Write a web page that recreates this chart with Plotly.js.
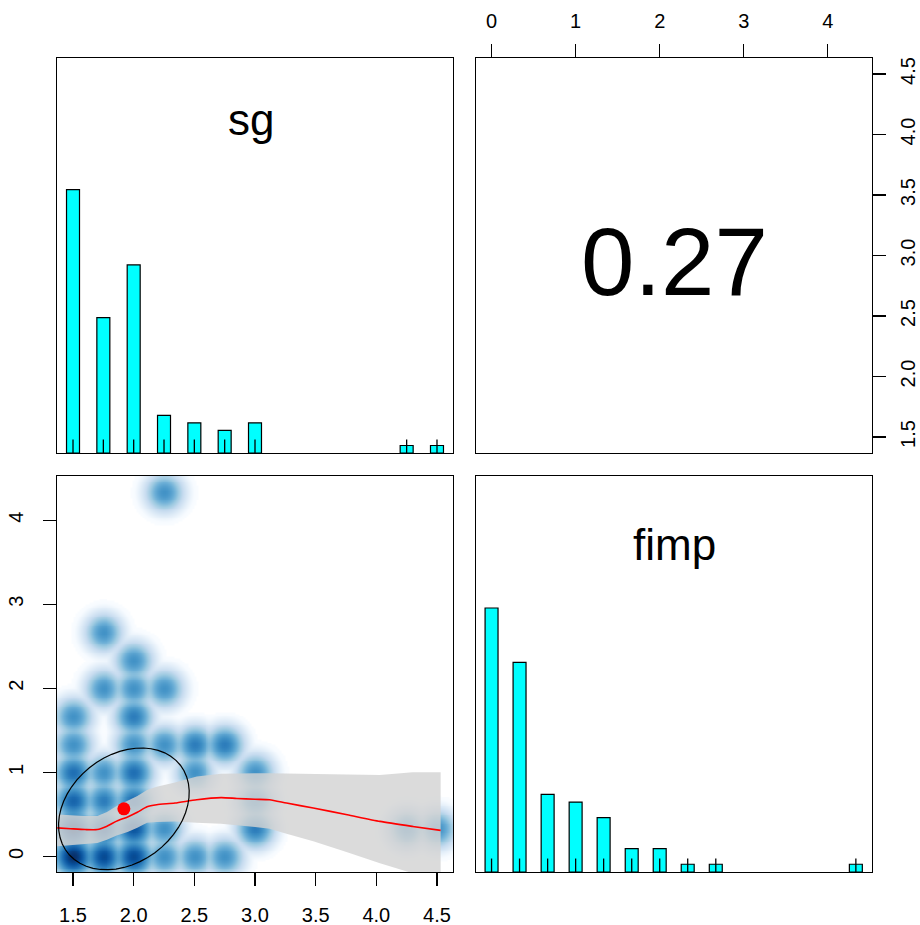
<!DOCTYPE html>
<html><head><meta charset="utf-8">
<script src="https://cdn.plot.ly/plotly-3.0.1.min.js"></script>
<style>body{margin:0;background:#fff}#chart{width:920px;height:925px}</style>
</head><body><div id="chart"></div>
<script>
// ---- data ----
// histogram of sg
const sgBins   = [1.5, 1.75, 2.0, 2.25, 2.5, 2.75, 3.0, 4.25, 4.5];
const sgCounts = [35, 18, 25, 5, 4, 3, 4, 1, 1];
// histogram of fimp
const fimpBins   = [0, 0.333, 0.667, 1, 1.333, 1.667, 2, 2.333, 2.667, 4.333];
const fimpCounts = [34, 27, 10, 9, 7, 3, 3, 1, 1, 1];
// joint cells (sg, fimp, number of cases) behind the smoothed scatter
const cellSg   = [1.5,1.5,1.5,1.5,1.5,1.5, 1.75,1.75,1.75,1.75,1.75,1.75, 2,2,2,2,2,2,2,2, 2.25,2.25,2.25,2.25,2.25, 2.5,2.5,2.5, 2.75,2.75, 3,3,3, 4.25, 4.5];
const cellFimp = [0,0.333,0.667,1,1.333,1.667, 0,0.333,0.667,1,2,2.667, 0,0.333,0.667,1,1.333,1.667,2,2.333, 0,0.333,1.333,2,4.333, 0,1,1.333, 0,1.333, 0.333,0.667,1, 0.333, 0.333];
const cellN    = [15,11,4,3,1,1, 8,5,2,1,1,1, 8,6,3,3,1,2,1,1, 1,1,1,1,1, 1,1,2, 1,2, 2,1,1, 1, 1];
// loess smooth and its confidence band
const smoothX  = [1.37, 1.48, 1.6, 1.7, 1.78, 1.86, 1.95, 2.03, 2.11, 2.19, 2.34, 2.52, 2.72, 2.85, 3.0, 3.12, 3.26, 3.48, 3.76, 4.03, 4.3, 4.53];
const smoothY  = [0.34, 0.33, 0.32, 0.32, 0.36, 0.42, 0.47, 0.525, 0.59, 0.615, 0.635, 0.675, 0.70, 0.69, 0.68, 0.675, 0.635, 0.576, 0.496, 0.417, 0.357, 0.31];
const bandUp   = [0.50, 0.49, 0.48, 0.48, 0.53, 0.60, 0.66, 0.72, 0.79, 0.83, 0.88, 0.95, 0.985, 0.99, 0.99, 0.99, 0.985, 0.98, 0.975, 0.97, 1.0, 1.0];
const bandLo   = [0.12, 0.13, 0.15, 0.16, 0.20, 0.25, 0.29, 0.34, 0.40, 0.41, 0.415, 0.40, 0.39, 0.37, 0.35, 0.33, 0.27, 0.18, 0.05, -0.08, -0.2, -0.3];
// correlation shown in the upper panel
const rValue = 0.27;
const rLabel = '0.27';
const varNames = ['sg', 'fimp'];
// tick labels
const sgTicks = [1.5, 2.0, 2.5, 3.0, 3.5, 4.0, 4.5];
const sgTickText = ['1.5', '2.0', '2.5', '3.0', '3.5', '4.0', '4.5'];
const fimpTicks = [0, 1, 2, 3, 4];
const fimpTickText = ['0', '1', '2', '3', '4'];

// ---- build ----
const sgRange = [1.368, 4.632];
const fimpRange = [-0.185, 4.525];
const FONT = 'Liberation Sans, Arial, Helvetica, sans-serif';

// summary stats from the cells
let n = 0, sx = 0, sy = 0;
cellN.forEach((c, i) => { n += c; sx += c * cellSg[i]; sy += c * cellFimp[i]; });
const mx = sx / n, my = sy / n;
let vx = 0, vy = 0;
cellN.forEach((c, i) => { vx += c * (cellSg[i] - mx) ** 2; vy += c * (cellFimp[i] - my) ** 2; });
const sdx = Math.sqrt(vx / (n - 1)), sdy = Math.sqrt(vy / (n - 1));

// smoothed density (smoothScatter-like)
const NX = 200, NY = 220, bw = [0.05, 0.072], POW = 0.15;
const gx = [], gy = [];
for (let i = 0; i < NX; i++) gx.push(sgRange[0] + (i + 0.5) * (sgRange[1] - sgRange[0]) / NX);
for (let j = 0; j < NY; j++) gy.push(fimpRange[0] + (j + 0.5) * (fimpRange[1] - fimpRange[0]) / NY);
const z = [];
let zmax = 0;
for (let j = 0; j < NY; j++) {
  const row = [];
  for (let i = 0; i < NX; i++) {
    let d = 0;
    for (let k = 0; k < cellN.length; k++) {
      const u = (gx[i] - cellSg[k]) / bw[0], v = (gy[j] - cellFimp[k]) / bw[1];
      const q = u * u + v * v;
      if (q < 30) d += cellN[k] * Math.exp(-0.5 * q);
    }
    row.push(d); if (d > zmax) zmax = d;
  }
  z.push(row);
}
for (let j = 0; j < NY; j++) for (let i = 0; i < NX; i++) z[j][i] = Math.pow(z[j][i] / zmax, POW);
const blues = ['#FFFFFF', '#F7FBFF', '#DEEBF7', '#C6DBEF', '#9ECAE1', '#6BAED6', '#4292C6', '#2171B5', '#08519C', '#08306B'];
const cscale = blues.map((c, i) => [i / (blues.length - 1), c]);

// correlation ellipse
const ex = [], ey = [];
const th = Math.sign(rValue) / Math.sqrt(2);
for (let s = 0; s <= 51; s++) {
  const a = s * 2 * Math.PI / 51;
  const c = Math.cos(a), si = Math.sin(a);
  ex.push((c * Math.sqrt(1 + rValue) * th - si * Math.sqrt(1 - rValue) * th) * sdx + mx);
  ey.push((c * Math.sqrt(1 + rValue) * th + si * Math.sqrt(1 - rValue) * th) * sdy + my);
}

// rugs
function rug(vals, h) {
  const x = [], y = [];
  vals.forEach(v => { x.push(v, v, null); y.push(0, h, null); });
  return { x, y };
}
const sgMax = 1.5 * Math.max(...sgCounts), fimpMax = 1.5 * Math.max(...fimpCounts);
const rugSg = rug(sgBins, 0.034 * sgMax), rugF = rug(fimpBins, 0.034 * fimpMax);

const traces = [
  { type: 'bar', x: sgBins, y: sgCounts, width: 0.107, xaxis: 'x', yaxis: 'y', hoverinfo: 'skip',
    marker: { color: '#00FFFF', line: { color: 'black', width: 1.2 } } },
  { type: 'scatter', mode: 'lines', x: rugSg.x, y: rugSg.y, xaxis: 'x', yaxis: 'y', hoverinfo: 'skip',
    line: { color: 'black', width: 1.3 } },
  { type: 'scatter', mode: 'markers', x: [], y: [], xaxis: 'x2', yaxis: 'y2', hoverinfo: 'skip' },
  { type: 'heatmap', x: gx, y: gy, z: z, xaxis: 'x3', yaxis: 'y3', colorscale: cscale, zmin: 0, zmax: 1,
    showscale: false, zsmooth: 'best', hoverinfo: 'skip' },
  { type: 'scatter', mode: 'lines', x: smoothX.concat(smoothX.slice().reverse()),
    y: bandUp.concat(bandLo.slice().reverse()), fill: 'toself', fillcolor: 'rgba(211,211,211,0.82)',
    line: { width: 0 }, xaxis: 'x3', yaxis: 'y3', hoverinfo: 'skip' },
  { type: 'scatter', mode: 'lines', x: smoothX, y: smoothY, xaxis: 'x3', yaxis: 'y3', hoverinfo: 'skip',
    line: { color: 'red', width: 1.6, shape: 'spline', smoothing: 0.6 } },
  { type: 'scatter', mode: 'lines', x: ex, y: ey, xaxis: 'x3', yaxis: 'y3', hoverinfo: 'skip',
    line: { color: 'black', width: 1.2 } },
  { type: 'scatter', mode: 'markers', x: [mx], y: [my], xaxis: 'x3', yaxis: 'y3', hoverinfo: 'skip',
    marker: { color: 'red', size: 13 } },
  { type: 'bar', x: fimpBins, y: fimpCounts, width: 0.154, xaxis: 'x4', yaxis: 'y4', hoverinfo: 'skip',
    marker: { color: '#00FFFF', line: { color: 'black', width: 1.2 } } },
  { type: 'scatter', mode: 'lines', x: rugF.x, y: rugF.y, xaxis: 'x4', yaxis: 'y4', hoverinfo: 'skip',
    line: { color: 'black', width: 1.3 } }
];

const frame = { showline: true, mirror: true, linecolor: 'black', linewidth: 1.2, showgrid: false,
  zeroline: false, fixedrange: true };
const noTicks = { ticks: '', showticklabels: false };
const withTicks = { ticks: 'outside', ticklen: 13, tickwidth: 1.2, tickcolor: 'black', ticklabelstandoff: 12,
  tickfont: { family: FONT, size: 20, color: 'black' } };
const L = [57 / 920, 453 / 920], R = [476 / 920, 872 / 920];
const T = [1 - 453 / 925, 1 - 58 / 925], B = [1 - 872 / 925, 1 - 476 / 925];

const layout = {
  width: 920, height: 925, margin: { l: 0, r: 0, t: 0, b: 0 },
  paper_bgcolor: 'white', plot_bgcolor: 'white', showlegend: false,
  font: { family: FONT, size: 20, color: 'black' },
  xaxis:  Object.assign({}, frame, noTicks, { domain: L, range: sgRange, anchor: 'y' }),
  yaxis:  Object.assign({}, frame, noTicks, { domain: T, range: [0, sgMax], anchor: 'x' }),
  xaxis2: Object.assign({}, frame, withTicks, { domain: R, range: fimpRange, anchor: 'y2', side: 'top',
    tickvals: fimpTicks, ticktext: fimpTickText, ticklabelstandoff: 8 }),
  yaxis2: Object.assign({}, frame, withTicks, { domain: T, range: sgRange, anchor: 'x2', side: 'right',
    tickvals: sgTicks, ticktext: sgTickText, tickangle: -90, ticklabelstandoff: 5 }),
  xaxis3: Object.assign({}, frame, withTicks, { domain: L, range: sgRange, anchor: 'y3',
    tickvals: sgTicks, ticktext: sgTickText }),
  yaxis3: Object.assign({}, frame, withTicks, { domain: B, range: fimpRange, anchor: 'x3',
    tickvals: fimpTicks, ticktext: fimpTickText, tickangle: -90 }),
  xaxis4: Object.assign({}, frame, noTicks, { domain: R, range: fimpRange, anchor: 'y4' }),
  yaxis4: Object.assign({}, frame, noTicks, { domain: B, range: [0, fimpMax], anchor: 'x4' }),
  annotations: [
    { xref: 'x domain', yref: 'y domain', x: 0.49, y: 0.845, text: varNames[0], showarrow: false,
      font: { family: FONT, size: 44, color: 'black' }, xanchor: 'center', yanchor: 'middle' },
    { xref: 'x4 domain', yref: 'y4 domain', x: 0.5, y: 0.8275, text: varNames[1], showarrow: false,
      font: { family: FONT, size: 44, color: 'black' }, xanchor: 'center', yanchor: 'middle' },
    { xref: 'x2 domain', yref: 'y2 domain', x: 0.5, y: 0.484, text: rLabel, showarrow: false,
      font: { family: FONT, size: 96, color: 'black' }, xanchor: 'center', yanchor: 'middle' }
  ]
};

Plotly.newPlot('chart', traces, layout, { displayModeBar: false, staticPlot: true });
</script>
</body></html>
